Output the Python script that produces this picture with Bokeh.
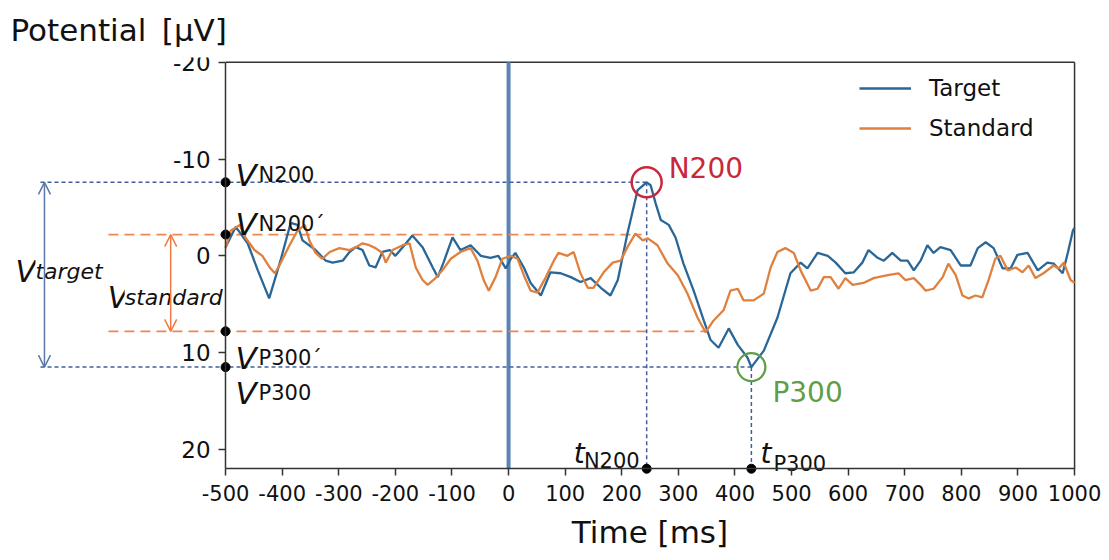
from bokeh.plotting import figure
from bokeh.models import Range1d, LinearAxis, FixedTicker, Arrow, OpenHead, Legend, LegendItem
from bokeh.core.properties import value
from bokeh.embed import file_html
from bokeh.resources import INLINE

# ---------------- data ----------------
time_target = [-500, -482, -461, -443, -423, -403, -385, -373, -364, -341, -323, -311, -293, -281,
               -270, -258, -246, -235, -223, -210, -200, -184, -170, -152, -134, -125, -115, -99,
               -85, -67, -49, -32, -18, -5, 4, 12, 27, 39, 57, 74, 92, 110, 127, 145, 163, 180,
               193, 210, 228, 244, 251, 260, 269, 283, 295, 309, 327, 345, 357, 371, 389, 405,
               422, 429, 451, 475, 498, 516, 528, 546, 564, 578, 595, 610, 625, 636, 652, 663,
               678, 693, 705, 716, 728, 740, 751, 763, 781, 799, 816, 829, 843, 857, 873, 887,
               899, 917, 935, 952, 963, 979, 988, 997, 1000]
pot_target = [-0.9, -3.0, -1.3, 1.5, 4.4, 0.5, -3.4, -3.2, -1.6, -0.6, 0.5, 0.7, 0.5, -0.4,
              -0.9, -0.6, 1.0, 1.2, -0.4, -0.6, 0.0, -1.1, -2.1, -0.9, 1.2, 2.2, 0.7, -1.9,
              -0.6, -1.1, 0.0, 0.2, 0.0, 1.3, 0.3, -0.3, 1.2, 2.8, 4.1, 1.7, 1.8, 2.2, 2.7, 2.3,
              3.3, 4.1, 2.5, -2.3, -6.8, -7.6, -7.3, -5.4, -3.7, -3.2, -1.9, 0.8, 3.6, 6.7, 8.7,
              9.5, 7.5, 9.2, 10.5, 11.5, 9.8, 6.4, 1.8, 0.7, 1.3, -0.3, 0.0, 0.7, 1.8, 1.7, 0.7,
              -0.6, 0.2, 0.5, -0.3, 0.5, 0.5, 1.5, 0.5, -1.1, -0.3, -0.9, -0.6, 1.0, 1.0, -0.8,
              -1.4, -0.8, 1.3, 1.3, -0.1, -0.3, 1.5, 0.7, 0.8, 1.8, -0.3, -2.6, -2.9]

time_standard = [-500, -491, -475, -465, -449, -435, -422, -413, -405, -387, -373, -360, -352,
                 -341, -329, -316, -299, -281, -270, -258, -246, -235, -223, -217, -205, -187,
                 -175, -164, -152, -143, -129, -117, -102, -85, -67, -55, -44, -35, -23, -11, 4,
                 16, 27, 39, 51, 65, 80, 88, 104, 115, 127, 140, 150, 168, 184, 198, 210, 224,
                 237, 246, 263, 281, 299, 316, 334, 348, 362, 380, 392, 405, 415, 433, 451, 463,
                 475, 489, 504, 516, 534, 546, 557, 569, 583, 595, 608, 627, 645, 670, 689, 701,
                 716, 728, 737, 751, 767, 777, 790, 802, 813, 825, 837, 848, 860, 869, 882, 896,
                 908, 919, 931, 945, 963, 972, 981, 993, 1000]
pot_standard = [-0.8, -2.6, -3.2, -1.9, -0.6, 0.0, 1.2, 1.8, 1.0, -1.1, -2.6, -3.2, -1.6, -0.3,
                0.3, -0.4, -0.8, -0.6, -0.9, -1.3, -1.1, -0.8, -0.3, 0.7, -0.6, -1.1, -1.3, 1.2,
                2.5, 3.0, 2.3, 1.5, 0.3, -0.4, -0.8, 0.5, 2.5, 3.6, 2.2, 0.3, 0.0, 0.3, 2.0, 3.6,
                3.8, 2.3, 0.5, -0.3, 0.0, -0.4, 1.8, 3.3, 3.3, 1.7, 0.7, 0.5, -0.9, -2.3, -1.6,
                -1.8, -1.1, 0.8, 2.0, 3.9, 6.4, 7.9, 6.7, 5.6, 3.6, 3.4, 4.6, 4.6, 3.9, 1.2, -0.4,
                -0.8, -0.3, 1.5, 3.6, 3.4, 2.2, 2.2, 3.4, 2.3, 3.0, 2.8, 2.3, 2.0, 1.8, 2.5, 2.3,
                3.0, 3.6, 3.4, 2.2, 0.8, 2.0, 4.1, 4.4, 4.1, 4.3, 2.5, 0.3, 0.0, 1.5, 1.2, 1.7,
                1.0, 2.3, 1.8, 1.0, 1.3, 0.7, 2.5, 2.8]

x_ticks = [-500, -400, -300, -200, -100, 0, 100, 200, 300, 400, 500, 600, 700, 800, 900, 1000]
y_ticks = [-20, -10, 0, 10, 20]

# peak annotations
t_n200, v_n200 = 244, -7.6       # Target N200
t_p300, v_p300 = 429, 11.5       # Target P300
t_n200s, v_n200s = 235, -2.2     # Standard N200'
t_p300s, v_p300s = 348, 7.8      # Standard P300'

# ---------------- layout constants ----------------
X_MIN, X_MAX = -500, 1000
Y_MIN, Y_MAX = -20, 22
T_BLUE_DASH_START = -827
T_ORANGE_DASH_START = -707
T_ARROW_TARGET = -820
T_ARROW_STD = -597

FONT = value("DejaVu Sans")
C_TARGET = "#2a6797"
C_STD = "#e0803e"
C_BDASH = "#41609a"
C_ODASH = "#ec8750"
C_AXIS = "#333333"

# the frame is stretched over the whole area around the axes, so that the
# axes (placed at fixed data locations) and their labels are never cut
p = figure(width=1101, height=552,
           x_range=Range1d(-880, 1047.6), y_range=Range1d(30.66, -20.5),
           output_backend="svg", toolbar_location=None,
           x_axis_location=None, y_axis_location=None,
           min_border_left=10, min_border_right=0, min_border_top=57, min_border_bottom=0)
p.xgrid.visible = False
p.ygrid.visible = False
p.outline_line_color = None
p.background_fill_color = "white"
p.border_fill_color = "white"

p.title.text = "Potential\u2002[\u03bcV]"
p.title.text_font = "DejaVu Sans"
p.title.text_font_size = "31px"
p.title.text_font_style = "normal"
p.title.text_color = "#111111"
p.title.align = "left"
p.title.standoff = 19

xaxis = LinearAxis(fixed_location=Y_MAX, bounds=(X_MIN, X_MAX), ticker=FixedTicker(ticks=x_ticks),
                   major_label_overrides={t: str(t) for t in x_ticks}, axis_label="Time [ms]")
yaxis = LinearAxis(fixed_location=X_MIN, bounds=(Y_MIN, Y_MAX), ticker=FixedTicker(ticks=y_ticks),
                   major_label_overrides={t: str(t) for t in y_ticks})
for ax in (xaxis, yaxis):
    ax.axis_line_color = C_AXIS
    ax.axis_line_width = 1.5
    ax.major_tick_line_color = C_AXIS
    ax.major_tick_line_width = 1.5
    ax.major_tick_out = 7
    ax.major_tick_in = 0
    ax.minor_tick_out = 0
    ax.minor_tick_in = 0
    ax.major_label_text_font = "DejaVu Sans"
    ax.major_label_text_color = "#111111"
xaxis.major_label_text_font_size = "21px"
xaxis.major_label_standoff = 9
xaxis.axis_label_text_font = "DejaVu Sans"
xaxis.axis_label_text_font_size = "31px"
xaxis.axis_label_text_font_style = "normal"
xaxis.axis_label_text_color = "#111111"
xaxis.axis_label_standoff = 10
yaxis.major_label_text_font_size = "23px"
yaxis.major_label_standoff = 8
p.add_layout(xaxis, "below")
p.add_layout(yaxis, "left")

# frame: top and right borders
p.line([X_MIN, X_MAX], [Y_MIN, Y_MIN], line_color=C_AXIS, line_width=1.5)
p.line([X_MAX, X_MAX], [Y_MIN, Y_MAX], line_color=C_AXIS, line_width=1.5)

# stimulus onset line
p.line([0, 0], [Y_MIN, Y_MAX], line_color="#5b83b5", line_width=4)

# dashed reference lines
p.line([T_BLUE_DASH_START, t_n200], [v_n200, v_n200], line_color=C_BDASH, line_width=1.5, line_dash="4 3")
p.line([T_BLUE_DASH_START, t_p300], [v_p300, v_p300], line_color=C_BDASH, line_width=1.5, line_dash="4 3")
p.line([T_ORANGE_DASH_START, t_n200s], [v_n200s, v_n200s], line_color=C_ODASH, line_width=1.8, line_dash="10 6")
p.line([T_ORANGE_DASH_START, t_p300s], [v_p300s, v_p300s], line_color=C_ODASH, line_width=1.8, line_dash="10 6")
p.line([t_n200, t_n200], [v_n200, Y_MAX], line_color=C_BDASH, line_width=1.5, line_dash="4 3")
p.line([t_p300, t_p300], [v_p300, Y_MAX], line_color=C_BDASH, line_width=1.5, line_dash="4 3")

# curves
r_t = p.line(time_target, pot_target, line_color=C_TARGET, line_width=2.3)
r_s = p.line(time_standard, pot_standard, line_color=C_STD, line_width=2.3)

# dots on the axes
p.scatter([X_MIN] * 4 + [t_n200, t_p300], [v_n200, v_n200s, v_p300s, v_p300, Y_MAX, Y_MAX],
          size=9, color="#000000")

# peak circles
p.scatter([t_n200], [v_n200], size=30, fill_color=None, line_color="#c8283c", line_width=2.5)
p.scatter([t_p300], [v_p300], size=28, fill_color=None, line_color="#5e9e44", line_width=2.2)

# double arrows
p.add_layout(Arrow(x_start=T_ARROW_TARGET, y_start=v_n200, x_end=T_ARROW_TARGET, y_end=v_p300,
                   line_color="#5a78a8", line_width=1.5,
                   start=OpenHead(size=12, line_color="#5a78a8", line_width=1.5),
                   end=OpenHead(size=12, line_color="#5a78a8", line_width=1.5)))
p.add_layout(Arrow(x_start=T_ARROW_STD, y_start=v_n200s, x_end=T_ARROW_STD, y_end=v_p300s,
                   line_color="#f07a42", line_width=1.5,
                   start=OpenHead(size=12, line_color="#f07a42", line_width=1.5),
                   end=OpenHead(size=12, line_color="#f07a42", line_width=1.5)))


def label(x, y, txt, size, dx, dy, color="#111111", style="normal", align="left", bg=None):
    kw = {}
    if bg:
        kw = dict(background_fill_color=bg)
    p.text([x], [y], text=[txt], text_font=FONT, text_font_size=size, text_font_style=style,
           text_color=color, text_align=align, text_baseline="alphabetic",
           x_offset=dx, y_offset=dy, **kw)


# V labels at the axis
for vv, sub, dy in [(v_n200, "N200", -7), (v_n200s, "N200\u00b4", -11),
                    (v_p300s, "P300\u00b4", 27), (v_p300, "P300", 26)]:
    label(X_MIN, vv, "V", "31px", 10, dy, style="italic")
    label(X_MIN, vv, sub, "21px", 33, dy)

# t labels at the time axis
label(t_n200, Y_MAX, "t", "28px", -62, -15, style="italic", align="right")
label(t_n200, Y_MAX, "N200", "21px", -7, -8, align="right")
label(t_p300, Y_MAX, "t", "28px", 9, -15, style="italic")
label(t_p300, Y_MAX, "P300", "21px", 22, -5)

# peak names
label(t_n200, v_n200, "N200", "28px", 22, -14, color="#c8283c")
label(t_p300, v_p300, "P300", "28px", 21, 25, color="#5e9e44")

# amplitude labels
mid_t = (v_n200 + v_p300) / 2
mid_s = (v_n200s + v_p300s) / 2
label(T_ARROW_TARGET, mid_t, "V", "30px", -29, -3, style="italic", bg="white")
label(T_ARROW_TARGET, mid_t, "target", "22px", -9, -3, style="italic", bg="white")
label(T_ARROW_STD, mid_s, "V", "30px", -63, 15, style="italic", bg="white")
label(T_ARROW_STD, mid_s, "standard", "22px", -46, 15, style="italic", bg="white")

legend = Legend(items=[LegendItem(label="Target", renderers=[r_t]),
                       LegendItem(label="Standard", renderers=[r_s])],
                location=(849, 409), border_line_color=None, background_fill_alpha=0,
                label_text_font="DejaVu Sans", label_text_font_size="23px",
                label_text_color="#111111",
                glyph_width=52, glyph_height=30, label_height=30, spacing=10,
                padding=8, label_standoff=18, margin=0)
p.add_layout(legend)

open("out.html", "w").write(file_html(p, INLINE))
